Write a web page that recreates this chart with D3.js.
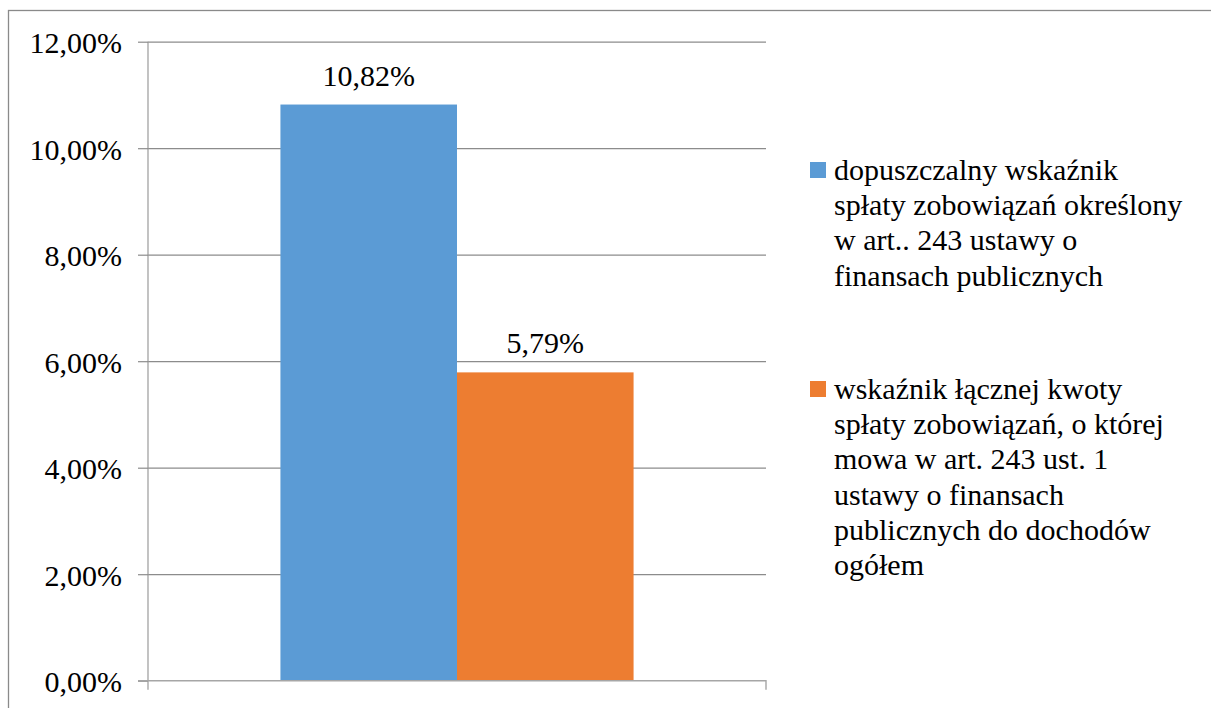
<!DOCTYPE html>
<html>
<head>
<meta charset="utf-8">
<script src="https://cdn.jsdelivr.net/npm/d3@7"></script>
<style>
html,body{margin:0;padding:0;background:#fff;}
</style>
</head>
<body>
<div id="wrap"></div>
<script>
// ---- data ----
const categories = ["2015"];
const seriesNames = [
  "dopuszczalny wskaźnik spłaty zobowiązań określony w art.. 243 ustawy o finansach publicznych",
  "wskaźnik łącznej kwoty spłaty zobowiązań, o której mowa w art. 243 ust. 1 ustawy o finansach publicznych do dochodów ogółem"
];
const legendLines = [
  ["dopuszczalny wskaźnik", "spłaty zobowiązań określony", "w art.. 243 ustawy o", "finansach publicznych"],
  ["wskaźnik łącznej kwoty", "spłaty zobowiązań, o której", "mowa w art. 243 ust. 1", "ustawy o finansach", "publicznych do dochodów", "ogółem"]
];
const seriesValues = [10.82, 5.79];
const seriesColors = ["#5B9BD5", "#ED7D31"];
const yTicks = [0, 2, 4, 6, 8, 10, 12];

// ---- layout ----
const FONT = "Liberation Serif";
const setFont = sel => sel.attr("font-family", FONT).style("font-family", FONT, "important");
const svg = d3.select("#wrap").append("svg").attr("width", 1211).attr("height", 708).style("display", "block");
const plot = {left: 148, right: 766, top: 41.7, bottom: 680.7};
const fmt = v => d3.format(".2f")(v).replace(".", ",") + "%";

// outer frame
svg.append("rect")
  .attr("x", 8.5).attr("y", 10.5)
  .attr("width", 1300).attr("height", 800)
  .attr("fill", "none").attr("stroke", "#8a8a8a").attr("stroke-width", 1.3);

const y = d3.scaleLinear().domain([0, 12]).range([plot.bottom, plot.top]);
const x0 = d3.scaleBand().domain(categories).range([plot.left, plot.right]).paddingInner(0).paddingOuter(0);
const groupW = x0.bandwidth() / 1.75;
const x1 = d3.scaleBand().domain(d3.range(seriesValues.length))
  .range([x0(categories[0]) + (x0.bandwidth() - groupW) / 2, x0(categories[0]) + (x0.bandwidth() + groupW) / 2])
  .padding(0);

// gridlines
const grid = svg.append("g").attr("transform", `translate(${plot.left},0)`)
  .call(d3.axisLeft(y).tickValues(yTicks.filter(t => t > 0)).tickSize(-(plot.right - plot.left)).tickFormat(""));
grid.select(".domain").remove();
grid.selectAll("line").attr("stroke", "#8c8c8c").attr("stroke-width", 1.2);

// y axis
const yAxis = svg.append("g").attr("transform", `translate(${plot.left},0)`)
  .call(d3.axisLeft(y).tickValues(yTicks).tickSize(10).tickPadding(16).tickFormat(fmt));
setFont(yAxis).attr("font-size", 30);
yAxis.select(".domain").attr("d", `M0,${plot.top}V${plot.bottom + 9}`).attr("stroke", "#9a9a9a").attr("stroke-width", 1.2);
yAxis.selectAll(".tick line").attr("stroke", "#8c8c8c").attr("stroke-width", 1.2);
setFont(yAxis.selectAll(".tick text")).attr("font-size", 30).attr("dy", "0.36em").attr("fill", "#000");

// bars
svg.append("g").selectAll("rect").data(seriesValues).join("rect")
  .attr("x", (d, i) => x1(i))
  .attr("width", x1.bandwidth())
  .attr("y", d => y(d))
  .attr("height", d => y(0) - y(d))
  .attr("fill", (d, i) => seriesColors[i]);

// x axis baseline
const xAxis = svg.append("g").attr("transform", `translate(0,${plot.bottom})`)
  .call(d3.axisBottom(x0).tickSize(0).tickFormat(""));
xAxis.select(".domain").attr("d", `M${plot.left - 10},0H${plot.right}V9`).attr("stroke", "#a6a6a6").attr("stroke-width", 1.4);
xAxis.selectAll(".tick").remove();

// data labels
setFont(svg.append("g").selectAll("text").data(seriesValues).join("text")
  .attr("x", (d, i) => x1(i) + x1.bandwidth() / 2)
  .attr("y", d => y(d) - 19)
  .attr("text-anchor", "middle")
  .attr("font-size", 30)
  .attr("fill", "#000")
  .text(d => fmt(d)));

// legend
const legendTop = [180, 399];
const lineH = 35.2;
const lg = svg.append("g");
legendLines.forEach((lines, i) => {
  lg.append("rect")
    .attr("x", 810).attr("y", legendTop[i] - 18)
    .attr("width", 16).attr("height", 16)
    .attr("fill", seriesColors[i]);
  const t = setFont(lg.append("text").attr("x", 834).attr("y", legendTop[i])
    .attr("font-size", 30).attr("fill", "#000"));
  lines.forEach((ln, j) => {
    setFont(t.append("tspan").attr("x", 834).attr("y", legendTop[i] + j * lineH)).text(ln);
  });
});
</script>
</body>
</html>
